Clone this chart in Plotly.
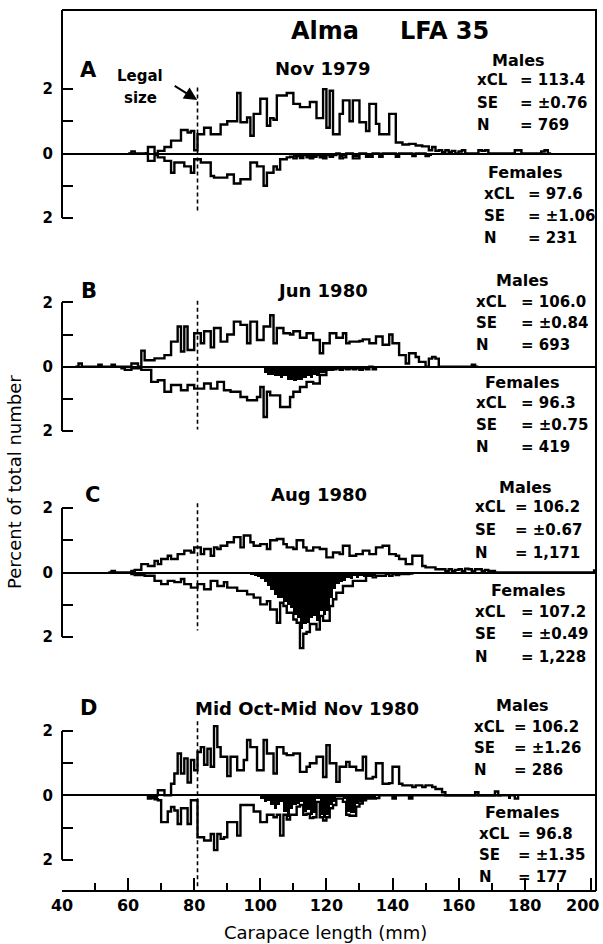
import plotly.graph_objects as go

# ---------------- data (percent of total number per 1-mm carapace-length class) -------------
LEGAL_SIZE = 81
panel_letters = ["A", "B", "C", "D"]
panel_titles = ["Nov 1979", "Jun 1980", "Aug 1980", "Mid Oct-Mid Nov 1980"]
x_ticks = [40, 60, 80, 100, 120, 140, 160, 180, 200]

males_xcl = ["113.4", "106.0", "106.2", "106.2"]
males_se = ["±0.76", "±0.84", "±0.67", "±1.26"]
males_n = ["769", "693", "1,171", "286"]
females_xcl = ["97.6", "96.3", "107.2", "96.8"]
females_se = ["±1.06", "±0.75", "±0.49", "±1.35"]
females_n = ["231", "419", "1,228", "177"]

# Panel A  (Nov 1979)
a_male_start = 60
a_male = [0, 0.06, 0, 0, 0, 0, 0.2, 0.2, 0, 0.08, 0.08, 0.2, 0.2, 0.4, 0.4, 0.4, 0.73, 0.73, 0.65, 0.7,
          0.1, 0.6, 0.6, 0.8, 0.8, 0.6, 0.6, 0.6, 0.9, 0.9, 1.0, 1.0, 1.0, 1.88, 0.97, 0.97, 1.12, 0.55,
          1.23, 1.23, 1.7, 1.7, 0.86, 1.1, 1.05, 1.8, 1.8, 1.8, 1.88, 1.88, 1.54, 1.54, 1.44, 1.44, 1.44,
          1.6, 1.6, 1.1, 1.1, 2.0, 0.8, 1.95, 0.6, 0.6, 1.23, 1.65, 1.65, 1.0, 1.65, 1.65, 0.97, 0.97,
          0.7, 1.54, 1.54, 0.92, 0.6, 0.6, 0.6, 1.23, 1.23, 0.34, 0.34, 0.28, 0.28, 0.3, 0.3, 0.25, 0.25,
          0.22, 0.22, 0.1, 0.2, 0.08, 0.1, 0.05, 0.1, 0.05, 0.08, 0, 0.06, 0.1, 0, 0, 0, 0, 0.1, 0.08,
          0.1, 0, 0, 0, 0, 0, 0, 0, 0, 0.1, 0.1, 0, 0, 0, 0, 0, 0, 0.06, 0.1, 0]
a_fem_start = 65
a_fem = [0, 0.23, 0.23, 0.05, 0.12, 0.12, 0.23, 0.23, 0.6, 0.28, 0.28, 0.28, 0.4, 0.4, 0.6, 0.18, 0.18,
         0.28, 0.28, 0.28, 0.7, 0.75, 0.75, 0.75, 0.75, 0.65, 0.65, 0.93, 0.93, 0.8, 0.8, 0.8, 0.28,
         0.28, 0.4, 0.4, 1.0, 0.6, 0.6, 0.4, 0.5, 0.18, 0.18, 0.12, 0.1, 0.15, 0.08, 0.14, 0.05, 0.12,
         0.15, 0.1, 0.05, 0.12, 0.15, 0.05, 0.1, 0.05, 0, 0.15, 0.12, 0, 0, 0.15, 0.15, 0, 0, 0.1, 0.1,
         0, 0, 0.1, 0, 0, 0, 0, 0.1, 0, 0, 0, 0, 0.08, 0, 0, 0, 0.08]
a_black_start = 110
a_black = [0.1, 0.06, 0.12, 0.04, 0.1, 0.12, 0.08, 0.04, 0.1, 0.12, 0.04, 0.08, 0.04, 0, 0.1, 0.08, 0,
           0, 0.1, 0.1, 0, 0, 0.08, 0.08, 0, 0, 0.08, 0, 0, 0, 0, 0.08, 0, 0, 0, 0, 0.06, 0, 0, 0, 0,
           0.06]

# Panel B  (Jun 1980)
b_male_start = 44
b_male = [0, 0.1, 0, 0, 0, 0, 0, 0.06, 0, 0, 0, 0.06, 0, 0, 0, 0, 0, 0.1, 0.1, 0, 0.5, 0.2, 0.2, 0.2,
          0.26, 0.26, 0.26, 0.36, 0.36, 0.78, 0.78, 1.25, 0.47, 1.25, 0.52, 0.52, 1.04, 1.04, 0.73, 1.1,
          1.1, 0.6, 1.2, 1.2, 0.78, 0.78, 1.0, 1.0, 1.4, 1.4, 1.3, 1.3, 0.73, 1.4, 1.4, 0.83, 0.83,
          1.25, 1.25, 1.6, 0.73, 1.2, 1.2, 1.04, 1.04, 1.0, 1.1, 1.1, 0.9, 0.9, 1.04, 1.04, 0.83, 0.83,
          0.42, 0.73, 0.73, 1.04, 1.04, 0.9, 0.9, 1.04, 0.73, 0.78, 0.78, 0.78, 0.8, 0.85, 0.85, 0.73,
          0.73, 0.94, 0.94, 0.68, 0.68, 1.0, 0.73, 0.73, 0.36, 0.36, 0.1, 0.42, 0.42, 0.3, 0.15, 0.15,
          0, 0.25, 0.3, 0.25, 0, 0, 0, 0, 0, 0, 0, 0, 0, 0, 0.06, 0]
b_fem_start = 58
b_fem = [0.05, 0.1, 0.1, 0.05, 0.05, 0.05, 0.1, 0.1, 0.1, 0.47, 0.47, 0.42, 0.42, 0.78, 0.78, 0.57,
         0.57, 0.57, 0.73, 0.73, 0.57, 0.57, 0.68, 0.68, 0.68, 0.52, 0.52, 0.68, 0.68, 0.47, 0.47, 0.73,
         0.73, 0.78, 0.78, 0.78, 0.94, 0.94, 1.04, 1.04, 1.04, 0.94, 0.63, 1.56, 0.78, 0.89, 0.89, 0.89,
         1.25, 1.25, 1.25, 0.94, 0.78, 0.78, 0.63, 0.63, 0.47, 0.47, 0.52, 0.52, 0.26, 0.26, 0.1, 0.1,
         0.08, 0.05, 0.1, 0.05, 0.08, 0.05, 0.08, 0.05, 0.1, 0.05, 0.08, 0, 0.08]
b_black_start = 90
b_black = [0, 0, 0.05, 0, 0, 0.05, 0, 0, 0.05, 0, 0, 0.2, 0.25, 0.25, 0.3, 0.3, 0.35, 0.3, 0.4, 0.42,
           0.45, 0.4, 0.42, 0.35, 0.3, 0.35, 0.25, 0.3, 0.2, 0.2, 0.1, 0.08, 0.06, 0.05, 0.08, 0.05,
           0.06, 0.05, 0.06, 0.05, 0.08, 0.05, 0.06, 0, 0.06]

# Panel C  (Aug 1980)
c_male_start = 54
c_male = [0, 0.05, 0, 0, 0, 0, 0, 0.05, 0.08, 0.08, 0.26, 0.26, 0.2, 0.2, 0.36, 0.26, 0.42, 0.42, 0.52,
          0.42, 0.42, 0.57, 0.57, 0.68, 0.68, 0.62, 0.78, 0.78, 0.57, 0.73, 0.73, 0.52, 0.78, 0.73, 0.83,
          0.83, 0.94, 0.94, 1.1, 1.1, 0.78, 1.15, 1.15, 0.94, 0.83, 0.83, 0.88, 0.88, 0.73, 1.0, 1.0,
          1.04, 1.04, 0.88, 0.78, 0.78, 0.73, 1.0, 1.0, 0.78, 0.68, 0.68, 0.78, 0.78, 0.73, 0.73, 0.47,
          0.47, 0.62, 0.62, 0.57, 0.83, 0.83, 0.52, 0.52, 0.57, 0.57, 0.68, 0.68, 0.57, 0.57, 0.78, 0.78,
          0.83, 0.83, 0.57, 0.57, 0.52, 0.42, 0.42, 0.26, 0.26, 0.52, 0.52, 0.52, 0.2, 0.16, 0.16, 0.16,
          0.1, 0.1, 0.1, 0.05, 0.1, 0.05, 0.08, 0.1, 0.05, 0.12, 0.1, 0.05, 0.1, 0.1, 0.05, 0.08, 0.05,
          0.05, 0, 0, 0, 0, 0, 0, 0, 0, 0, 0, 0, 0, 0, 0, 0, 0, 0, 0, 0, 0, 0, 0, 0, 0, 0, 0, 0, 0,
          0, 0, 0.06, 0]
c_fem_start = 61
c_fem = [0.05, 0.08, 0.08, 0.08, 0.1, 0.1, 0.1, 0.26, 0.26, 0.36, 0.36, 0.26, 0.26, 0.3, 0.3, 0.2, 0.36,
         0.36, 0.47, 0.47, 0.36, 0.36, 0.52, 0.52, 0.26, 0.26, 0.42, 0.42, 0.3, 0.47, 0.47, 0.47, 0.57,
         0.57, 0.57, 0.68, 0.68, 0.78, 0.78, 0.99, 0.99, 0.89, 1.15, 1.15, 1.56, 0.94, 1.04, 1.25, 1.25,
         1.46, 1.56, 2.35, 1.9, 1.85, 1.6, 1.6, 1.77, 1.35, 1.5, 1.5, 1.04, 0.83, 0.63, 0.63, 0.42, 0.42,
         0.42, 0.26, 0.26, 0.26, 0.26, 0.1, 0.1, 0.15, 0.1, 0.1, 0.1, 0.05, 0.1, 0.05, 0.08, 0.05, 0.05,
         0.05, 0.03]
c_black_start = 95
c_black = [0.05, 0.05, 0.08, 0.1, 0.12, 0.2, 0.3, 0.4, 0.55, 0.7, 0.8, 0.8, 0.9, 1.0, 1.1, 1.3, 1.4,
           1.75, 1.6, 1.55, 1.4, 1.35, 1.5, 1.2, 1.3, 1.2, 0.8, 0.5, 0.35, 0.3, 0.25, 0.15, 0.2, 0.1,
           0.15, 0.1, 0.12, 0.08, 0.08, 0.1, 0.05]

# Panel D  (Mid Oct - Mid Nov 1980)
d_male_start = 66
d_male = [0, 0, 0, 0.16, 0.16, 0, 0, 0.36, 0.68, 1.3, 0.68, 1.15, 0.4, 1.1, 0.78, 1.35, 1.5, 0.95,
          1.45, 0.89, 2.15, 1.5, 1.2, 1.2, 0.6, 1.2, 1.2, 0.78, 0.78, 1.1, 1.72, 1.5, 1.5, 0.78, 0.78,
          1.72, 1.3, 1.3, 0.68, 1.5, 1.5, 1.3, 1.25, 1.25, 1.3, 1.3, 0.73, 0.73, 0.89, 1.0, 1.0, 1.2,
          1.2, 0.57, 1.56, 1.0, 1.0, 0.42, 0.89, 0.89, 1.04, 0.89, 0.89, 0.78, 0.78, 1.2, 0.52, 0.52,
          0.57, 1.0, 1.0, 0.36, 0.36, 0.38, 0.89, 0.89, 0.36, 0.31, 0.31, 0.31, 0.26, 0.31, 0.31, 0.26,
          0.31, 0.31, 0.26, 0.2, 0.2, 0.1, 0, 0, 0, 0, 0, 0, 0, 0, 0, 0.1, 0, 0, 0, 0, 0, 0.12, 0]
d_fem_start = 66
d_fem = [0.1, 0.08, 0.12, 0.15, 0.83, 0.83, 0.5, 0.36, 0.47, 0.89, 0.4, 0.4, 0.89, 0.15, 0.15, 1.3,
         1.3, 1.4, 1.4, 1.2, 1.7, 1.2, 1.35, 1.3, 0.83, 0.83, 0.83, 1.25, 0.3, 0.3, 0.3, 0.3, 0.5, 0.5,
         0.83, 0.83, 0.6, 0.6, 0.68, 0.6, 1.25, 0.6, 0.75, 0.6, 0.6, 0.35, 0.3, 0.6, 0.57, 0.7, 0.68,
         0.2, 0.68, 0.78, 0.68, 0.4, 0.3, 0.1, 0.1, 0.2, 0.6, 0.63, 0.63, 0.35, 0.25, 0.15, 0.1, 0.1,
         0.1, 0.08, 0, 0, 0, 0, 0.1, 0, 0, 0, 0, 0.1, 0, 0, 0, 0, 0, 0, 0, 0, 0, 0, 0, 0, 0, 0, 0, 0,
         0, 0, 0, 0, 0, 0, 0, 0, 0, 0, 0, 0, 0, 0, 0, 0.1]
d_black_start = 66
d_black = [0.1, 0.08, 0.1, 0, 0, 0, 0, 0, 0, 0, 0, 0, 0, 0, 0, 0, 0, 0, 0, 0, 0, 0, 0, 0, 0, 0, 0, 0,
           0, 0, 0, 0, 0, 0, 0.1, 0.2, 0.15, 0.3, 0.4, 0.3, 0.2, 0.5, 0.65, 0.4, 0.3, 0.25, 0.2, 0.5,
           0.45, 0.6, 0.55, 0.1, 0.6, 0.7, 0.6, 0.3, 0.2, 0.05, 0.05, 0.1, 0.5, 0.55, 0.55, 0.25, 0.2,
           0.1, 0.1, 0.1, 0.1, 0, 0, 0, 0, 0, 0.1, 0, 0, 0, 0, 0.1, 0, 0, 0, 0, 0, 0, 0, 0, 0, 0, 0,
           0, 0, 0, 0, 0, 0, 0, 0, 0, 0, 0, 0, 0, 0, 0, 0, 0, 0, 0.1]

males = [(a_male_start, a_male), (b_male_start, b_male), (c_male_start, c_male), (d_male_start, d_male)]
females = [(a_fem_start, a_fem), (b_fem_start, b_fem), (c_fem_start, c_fem), (d_fem_start, d_fem)]
blacks = [(a_black_start, a_black), (b_black_start, b_black), (c_black_start, c_black),
          (d_black_start, d_black)]

# ---------------- geometry -------------
W, H = 603, 944
L, R, T, B = 62, 596, 10, 891
PXMM = 3.305
X_MAX = 40 + (R - L) / PXMM
UNIT = 32.2
centers = [153.5, 366.7, 572.5, 795.4]
yranges = [(-2.6, 2.6), (-2.6, 2.6), (-2.6, 2.6), (-2.95, 2.6)]
legal_span = [(2.05, -1.85), (2.05, -1.95), (2.15, -1.8), (2.3, -2.9)]

FONT = "DejaVu Sans"


def py(p):
    return (B - p) / (B - T)


def px(p):
    return (p - L) / (R - L)


def step_xy(start, vals, sign):
    xs = [start] + [start + i for i in range(len(vals))] + [start + len(vals)]
    ys = [0] + [sign * v for v in vals] + [0]
    return xs, ys


fig = go.Figure()
layout_axes = {}
shapes = []
annotations = []

for k in range(4):
    yname = "y" if k == 0 else f"y{k + 1}"
    axkey = "yaxis" if k == 0 else f"yaxis{k + 1}"
    lo, hi = yranges[k]
    cy = centers[k]
    dom = [py(cy - lo * UNIT), py(cy - hi * UNIT)]
    layout_axes[axkey] = dict(
        domain=dom, range=[lo, hi], anchor="x", showline=False, showgrid=False,
        zeroline=True, zerolinecolor="black", zerolinewidth=2,
        tickvals=[-2, -1, 0, 1, 2], ticktext=["2", "", "0", "", "2"],
        ticks="inside", ticklen=11, tickwidth=2, tickcolor="black",
        ticklabelstandoff=8,
        tickfont=dict(family=FONT, size=15, color="black", weight="bold"),
    )
    bs, bv = blacks[k]
    fig.add_trace(go.Bar(
        x=[bs + i + 0.5 for i in range(len(bv))], y=[-v for v in bv], width=1,
        marker=dict(color="black", line=dict(width=0)), xaxis="x", yaxis=yname,
        showlegend=False, hoverinfo="skip"))
    fs, fv = females[k]
    xs, ys = step_xy(fs, fv, -1)
    fig.add_trace(go.Scatter(x=xs, y=ys, mode="lines", line=dict(color="black", width=2.4, shape="hv"),
                             xaxis="x", yaxis=yname, showlegend=False, hoverinfo="skip"))
    ms, mv = males[k]
    xs, ys = step_xy(ms, mv, 1)
    fig.add_trace(go.Scatter(x=xs, y=ys, mode="lines", line=dict(color="black", width=2.4, shape="hv"),
                             xaxis="x", yaxis=yname, showlegend=False, hoverinfo="skip"))
    fig.add_trace(go.Scatter(x=[LEGAL_SIZE, LEGAL_SIZE], y=list(legal_span[k]), mode="lines",
                             line=dict(color="black", width=1.6, dash="4px,3px"),
                             xaxis="x", yaxis=yname, showlegend=False, hoverinfo="skip"))
    top_px = T if k == 0 else cy - 2 * UNIT
    shapes.append(dict(type="line", xref="paper", yref="paper", x0=0, x1=0,
                       y0=py(cy + 2 * UNIT), y1=py(top_px), line=dict(color="black", width=2)))

# top and right edges of the frame, as one open path
shapes.append(dict(type="path", xref="paper", yref="paper", path="M 0,1 L 1,1 L 1,0",
                   fillcolor="rgba(0,0,0,0)", line=dict(color="black", width=2)))


def txt(s, x, y, size, bold=False, anchor="center"):
    annotations.append(dict(text=s, xref="paper", yref="paper", x=px(x), y=py(y), xanchor=anchor,
                            yanchor="middle", showarrow=False,
                            font=dict(family=FONT, size=size, color="black",
                                      weight="bold" if bold else "normal")))


txt("Alma", 325, 31, 24, True)
txt("LFA 35", 444, 31, 24, True)

letter_pos = [(88, 70), (89, 291), (92, 495), (88, 708)]
title_pos = [(323, 68), (322, 290), (319, 494), (307, 708)]
for k in range(4):
    txt(panel_letters[k], *letter_pos[k], 21, True)
    txt(panel_titles[k], *title_pos[k], 18, True)

stat_geom = [
    ((518, 61), (80, 103, 125), 475, 518, (525, 173), (194, 216, 238), 482, 526),
    ((522, 280), (302, 323, 345), 474, 519, (522, 382), (403, 425, 447), 474, 519),
    ((525, 487), (507, 530, 553), 473, 513, (528, 590), (612, 634, 657), 473, 519),
    ((522, 705), (727, 748, 770), 472, 512, (522, 812), (834, 855, 877), 477, 516),
]
for k in range(4):
    mc, mrows, mlx, mex, fc, frows, flx, fex = stat_geom[k]
    txt("Males", *mc, 16, True)
    for lab, val, yy in zip(["xCL", "SE", "N"], [males_xcl[k], males_se[k], males_n[k]], mrows):
        txt(lab, mlx, yy, 15, True, "left")
        txt("= " + val, mex, yy, 15, True, "left")
    txt("Females", *fc, 16, True)
    for lab, val, yy in zip(["xCL", "SE", "N"], [females_xcl[k], females_se[k], females_n[k]], frows):
        txt(lab, flx, yy, 15, True, "left")
        txt("= " + val, fex, yy, 15, True, "left")

txt("Legal", 140, 76, 15, True)
txt("size", 140, 98, 15, True)
annotations.append(dict(x=80.9, y=(centers[0] - 100) / UNIT, xref="x", yref="y", text="",
                        showarrow=True, ax=-24, ay=-15, arrowhead=2, arrowsize=1.3, arrowwidth=2,
                        arrowcolor="black"))

# last x tick label placed so it stays inside the page
annotations.append(dict(text=str(x_ticks[-1]), xref="paper", yref="paper", x=1.01, y=py(905),
                        xanchor="right", yanchor="middle", showarrow=False,
                        font=dict(family=FONT, size=16, color="black", weight="bold")))

txt("Carapace length (mm)", 325, 932, 18)
annotations.append(dict(text="Percent of total number", xref="paper", yref="paper", x=px(14), y=py(482),
                        textangle=-90, showarrow=False, xanchor="center", yanchor="middle",
                        font=dict(family=FONT, size=18, color="black")))

fig.update_layout(
    template="none",
    width=W, height=H, margin=dict(l=L, r=W - R, t=T, b=H - B),
    paper_bgcolor="white", plot_bgcolor="white", barmode="overlay", bargap=0,
    xaxis=dict(domain=[0, 1], range=[40, X_MAX], anchor="free", position=0, showline=True,
               linecolor="black", linewidth=2, showgrid=False, zeroline=False,
               tickvals=x_ticks, ticktext=[str(v) for v in x_ticks[:-1]] + [""],
               ticks="inside", ticklen=12, tickwidth=2, tickcolor="black",
               minor=dict(tickvals=[50, 70, 90, 110, 130, 150, 170, 190], ticks="inside", ticklen=7,
                          tickwidth=2, tickcolor="black", showgrid=False),
               tickfont=dict(family=FONT, size=16, color="black", weight="bold")),
    shapes=shapes, annotations=annotations, showlegend=False,
    **layout_axes,
)

fig.write_html("out.html")
